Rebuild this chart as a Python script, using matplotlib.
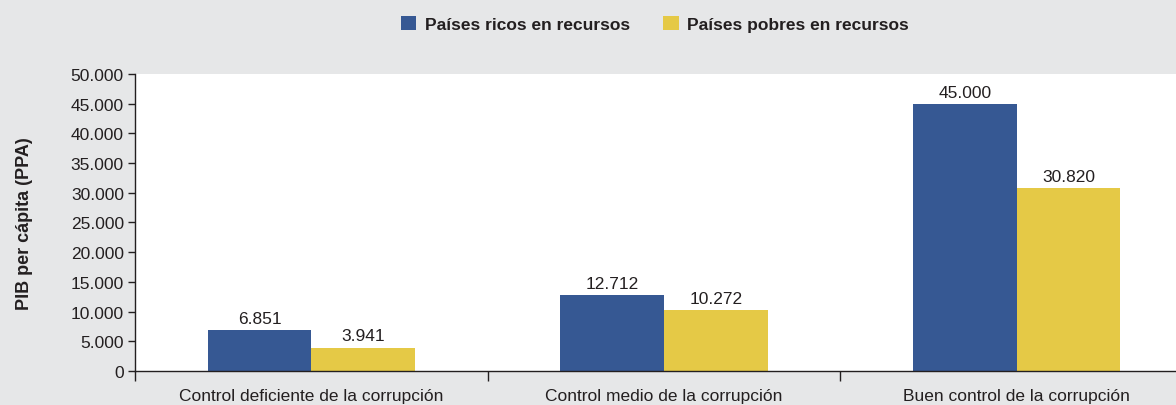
import matplotlib.pyplot as plt
import numpy as np
from matplotlib import font_manager

# font: narrow Arial-like if available
names = {f.name for f in font_manager.fontManager.ttflist}
fam = 'Liberation Sans Narrow' if 'Liberation Sans Narrow' in names else 'Liberation Sans'
plt.rcParams['font.family'] = [fam, 'DejaVu Sans']

categorias = ['Control deficiente de la corrupción',
              'Control medio de la corrupción',
              'Buen control de la corrupción']
ricos = [6851, 12712, 45000]
pobres = [3941, 10272, 30820]
etiquetas_ricos = ['6.851', '12.712', '45.000']
etiquetas_pobres = ['3.941', '10.272', '30.820']
yticks = list(range(0, 50001, 5000))
ytick_labels = ['0'] + ['{:,}'.format(v).replace(',', '.') for v in yticks[1:]]

azul = '#365893'
amarillo = '#e5c946'
fondo = '#e6e7e8'

fig = plt.figure(figsize=(11.76, 4.06), dpi=100, facecolor=fondo)
# axes run past the right edge of the figure (clipped like the original)
ax = fig.add_axes([135 / 1176, 34 / 406, 1058 / 1176, 297 / 406])
ax.set_facecolor('white')

x = np.arange(len(categorias))
w = 0.294
b1 = ax.bar(x - w / 2, ricos, w, color=azul, label='Países ricos en recursos')
b2 = ax.bar(x + w / 2, pobres, w, color=amarillo, label='Países pobres en recursos')

for bars, labs in [(b1, etiquetas_ricos), (b2, etiquetas_pobres)]:
    for r, t in zip(bars, labs):
        ax.text(r.get_x() + r.get_width() / 2, r.get_height() + 700, t,
                ha='center', va='bottom', fontsize=12.5, color='#231f20')

ax.set_xlim(-0.5, 2.5)
ax.set_ylim(0, 50000)
ax.set_yticks(yticks)
ax.set_yticklabels(ytick_labels, fontsize=12.5, color='#231f20')
ax.tick_params(axis='y', direction='out', length=5, width=1, color='#231f20', pad=3)

# category ticks at boundaries, labels at centers
ax.set_xticks([-0.5, 0.5, 1.5, 2.5])
ax.set_xticklabels([])
ax.set_xticks(x, minor=True)
ax.set_xticklabels(categorias, minor=True, fontsize=12.5, color='#231f20')
ax.tick_params(axis='x', which='major', direction='out', length=7, width=1, color='#231f20')
ax.tick_params(axis='x', which='minor', length=0, pad=12)

for s in ['top', 'right']:
    ax.spines[s].set_visible(False)
for s in ['left', 'bottom']:
    ax.spines[s].set_color('#231f20')
    ax.spines[s].set_linewidth(1)

ax.set_ylabel('PIB per cápita (PPA)', fontsize=13, fontweight='bold', color='#231f20', labelpad=27)

leg = fig.legend(loc='center', bbox_to_anchor=(655 / 1176, 1 - 25 / 406), ncol=2, frameon=False,
                 prop={'weight': 'bold', 'size': 12.5}, handlelength=0.9, handleheight=0.9,
                 columnspacing=1.9, handletextpad=0.5)
for t in leg.get_texts():
    t.set_color('#231f20')

fig.savefig('out.png', dpi=100, facecolor=fondo)
